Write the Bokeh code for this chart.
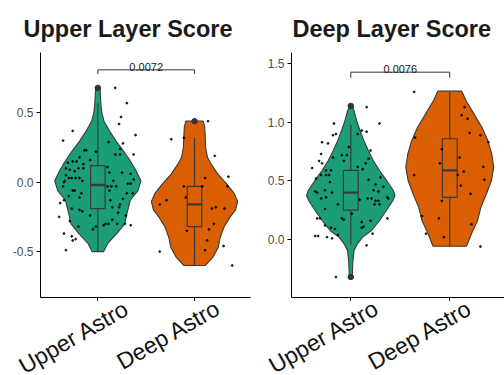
import numpy as np
from math import pi
from bokeh.plotting import figure
from bokeh.layouts import row, column
from bokeh.models import Range1d, FixedTicker, Label, PrintfTickFormatter
from bokeh.core.properties import value
from bokeh.embed import file_html
from bokeh.resources import INLINE

groups = ["Upper Astro", "Deep Astro"]
group_colors = ["#1B9E77", "#D95F02"]
titles = ["Upper Layer Score", "Deep Layer Score"]
p_values = ["0.0072", "0.0076"]

# ---------------- Upper Layer Score ----------------
ul_upper_vy = [0.68, 0.64, 0.56, 0.50, 0.44, 0.37, 0.30, 0.23, 0.16, 0.09, 0.01, -0.06, -0.13, -0.23, -0.30, -0.37, -0.44, -0.50]
ul_upper_vw = [0.022, 0.026, 0.032, 0.042, 0.064, 0.12, 0.185, 0.26, 0.33, 0.39, 0.446, 0.415, 0.335, 0.30, 0.278, 0.196, 0.103, 0.06]
ul_deep_vy = [0.44, 0.40, 0.325, 0.25, 0.18, 0.13, 0.06, -0.01, -0.08, -0.14, -0.20, -0.25, -0.325, -0.40, -0.47, -0.54, -0.60]
ul_deep_vw = [0.09, 0.105, 0.111, 0.115, 0.134, 0.172, 0.24, 0.33, 0.41, 0.446, 0.425, 0.369, 0.304, 0.265, 0.245, 0.19, 0.112]

ul_upper_dx = [0.18, 0.30, 0.24, 0.22, -0.26, 0.39, -0.36, 0.11, 0.26, 0.23,
               -0.14, -0.12, -0.02, 0.18, 0.37, 0.23, -0.19, -0.08, -0.31, -0.26,
               -0.22, -0.15, -0.20, -0.33, -0.29, -0.24, -0.15, 0.10, 0.12, 0.25,
               0.34, -0.33, -0.30, -0.27, -0.23, -0.19, -0.34, -0.35, -0.36, -0.16,
               0.37, 0.16, 0.31, 0.34, 0.10, 0.14, 0.19, 0.12, -0.26, -0.24,
               -0.17, -0.19, -0.30, -0.35, -0.39, 0.30, 0.36, 0.26, 0.13, 0.23,
               0.15, 0.22, -0.27, -0.19, -0.16, -0.40, -0.08, 0.21, 0.29, 0.08,
               0.11, 0.06, 0.15, 0.20, 0.34, 0.28, -0.29, -0.20, -0.02, -0.05,
               -0.35, -0.27, -0.26, -0.23, -0.33]
ul_upper_y = [0.68, 0.57, 0.47, 0.42, 0.37, 0.34, 0.30, 0.29, 0.28, 0.24,
              0.23, 0.23, 0.22, 0.20, 0.20, 0.20, 0.18, 0.16, 0.14, 0.15,
              0.15, 0.13, 0.10, 0.10, 0.09, 0.08, 0.10, 0.11, 0.07, 0.07,
              0.06, 0.05, 0.03, 0.03, 0.03, 0.03, 0.01, 0.00, -0.03, 0.01,
              0.02, 0.01, -0.01, -0.01, -0.03, -0.03, -0.03, -0.06, -0.06, -0.06,
              -0.08, -0.11, -0.10, -0.13, -0.15, -0.08, -0.08, -0.12, -0.13, -0.16,
              -0.18, -0.18, -0.19, -0.20, -0.21, -0.25, -0.24, -0.22, -0.24, -0.30,
              -0.30, -0.31, -0.27, -0.30, -0.31, -0.30, -0.28, -0.32, -0.32, -0.34,
              -0.37, -0.39, -0.42, -0.41, -0.49]
ul_deep_dx = [0.14, -0.24, -0.11, 0.21, 0.35, 0.11, -0.11, 0.08, 0.34, -0.09, -0.29, -0.36,
              0.18, 0.22, 0.31, 0.20, 0.15, -0.08, 0.13, 0.30, 0.11, -0.36, 0.39]
ul_deep_y = [0.44, 0.31, 0.32, 0.19, 0.04, 0.03, -0.03, -0.03, -0.03, -0.11, -0.13, -0.16,
             -0.19, -0.18, -0.19, -0.30, -0.34, -0.35, -0.42, -0.46, -0.49, -0.50, -0.60]

ul_q1 = [-0.19, -0.32]
ul_median = [-0.02, -0.16]
ul_q3 = [0.12, -0.03]
ul_whisk_lo = [-0.50, -0.60]
ul_whisk_hi = [0.57, 0.32]
ul_outlier_group = [1, 2]
ul_outlier_y = [0.68, 0.44]

# ---------------- Deep Layer Score ----------------
dl_upper_vy = [1.145, 1.10, 1.015, 0.93, 0.845, 0.76, 0.674, 0.589, 0.503, 0.418, 0.375, 0.333, 0.247, 0.162, 0.077, 0.02, -0.04, -0.094, -0.18, -0.25, -0.32]
dl_upper_vw = [0.012, 0.032, 0.059, 0.093, 0.131, 0.177, 0.227, 0.29, 0.362, 0.43, 0.447, 0.426, 0.36, 0.29, 0.21, 0.12, 0.065, 0.033, 0.022, 0.018, 0.015]
dl_deep_vy = [1.266, 1.186, 1.072, 0.958, 0.845, 0.731, 0.617, 0.503, 0.39, 0.276, 0.162, 0.048, -0.057]
dl_deep_vw = [0.121, 0.164, 0.244, 0.325, 0.384, 0.424, 0.444, 0.421, 0.371, 0.315, 0.281, 0.219, 0.169]

dl_upper_dx = [-0.17, 0.29, -0.15, -0.18, 0.11, 0.16, 0.07, -0.29, -0.23, -0.02,
               0.20, -0.30, -0.09, -0.04, -0.18, -0.32, -0.07, 0.18, -0.29, 0.15,
               -0.39, -0.25, -0.20, 0.07, 0.12, -0.30, -0.25, -0.22, -0.35, 0.30,
               0.18, -0.21, 0.25, 0.33, -0.36, -0.34, -0.26, -0.19, 0.23, 0.28,
               0.37, 0.38, 0.17, 0.21, 0.25, 0.28, 0.24, 0.29, -0.30, -0.25,
               -0.26, -0.13, 0.09, 0.01, -0.34, -0.31, -0.09, -0.07, 0.11, 0.20,
               0.37, -0.26, -0.20, -0.16, 0.11, 0.13, -0.13, 0.22, -0.36, -0.33,
               -0.24, -0.19, 0.16, -0.15, 0.16]
dl_upper_y = [0.99, 0.99, 0.90, 0.89, 0.93, 0.92, 0.90, 0.83, 0.82, 0.79,
              0.76, 0.73, 0.72, 0.72, 0.70, 0.67, 0.67, 0.69, 0.65, 0.65,
              0.61, 0.59, 0.59, 0.62, 0.60, 0.55, 0.55, 0.55, 0.52, 0.53,
              0.51, 0.49, 0.47, 0.45, 0.41, 0.40, 0.42, 0.40, 0.42, 0.41,
              0.36, 0.35, 0.35, 0.35, 0.33, 0.33, 0.30, 0.30, 0.35, 0.36,
              0.26, 0.30, 0.34, 0.22, 0.18, 0.18, 0.18, 0.17, 0.15, 0.16,
              0.18, 0.12, 0.10, 0.09, 0.10, 0.11, 0.04, 0.05, 0.03, 0.03,
              0.02, 0.01, -0.05, -0.32, 1.13]
dl_deep_dx = [-0.36, 0.15, 0.12, 0.18, 0.20, 0.31, -0.35, 0.39, -0.08, 0.10, -0.10, 0.34, 0.14,
              -0.36, 0.35, 0.08, 0.11, 0.21, -0.08, -0.28, -0.11, 0.22, -0.24, -0.06, 0.31]
dl_deep_y = [1.26, 1.13, 1.06, 1.03, 0.91, 0.89, 0.87, 0.83, 0.77, 0.70, 0.65, 0.62, 0.58,
             0.55, 0.51, 0.55, 0.46, 0.39, 0.33, 0.20, 0.18, 0.13, 0.05, 0.02, -0.06]

dl_q1 = [0.25, 0.36]
dl_median = [0.40, 0.59]
dl_q3 = [0.59, 0.86]
dl_whisk_lo = [-0.04, -0.057]
dl_whisk_hi = [0.98, 1.266]
dl_outlier_group = [1, 1]
dl_outlier_y = [1.14, -0.32]

ul_yticks = [-0.5, 0.0, 0.5]
dl_yticks = [0.0, 0.5, 1.0, 1.5]
ul_bracket = [0.81, 0.78]
dl_bracket = [1.428, 1.38]

FONT = "Liberation Sans"
OUTLINE = "#3a3a3a"
BOX_HALF = 0.075
PANEL_W = 252
MAIN_H = 301
LABEL_H = 375 - MAIN_H


def no_frame_align(fig):
    if "frame_align" in fig.properties():
        fig.frame_align = False


def make_panel(k, violins, points, q1, med, q3, lo, hi, out_g, out_y,
               xr, yr, yticks, bracket, border_left, border_right, title_offset,
               lab_shift_px, lab_down_px):
    p = figure(width=PANEL_W, height=MAIN_H, output_backend="svg", toolbar_location=None,
               x_range=Range1d(*xr), y_range=Range1d(*yr),
               min_border_left=border_left, min_border_right=border_right,
               min_border_top=52, min_border_bottom=4)
    no_frame_align(p)
    p.background_fill_color = "white"
    p.border_fill_color = "white"
    p.outline_line_color = None
    p.xgrid.visible = False
    p.ygrid.visible = False

    p.title.text = titles[k]
    p.title.text_font = FONT
    p.title.text_font_size = "23.5px"
    p.title.text_font_style = "bold"
    p.title.text_color = "#1a1a1a"
    p.title.align = "left"
    p.title.offset = title_offset
    p.title.standoff = 22

    for i, (vy, vw) in enumerate(violins):
        cx = i + 1
        vy = np.asarray(vy)
        vw = np.asarray(vw)
        xs = np.concatenate([cx - vw, (cx + vw)[::-1]])
        ys = np.concatenate([vy, vy[::-1]])
        p.patch(xs, ys, fill_color=group_colors[i], line_color=OUTLINE, line_width=1.1)

    cxs = np.array([1, 2])
    p.segment(x0=cxs, y0=np.array(q3), x1=cxs, y1=np.array(hi), line_color=OUTLINE, line_width=1.2)
    p.segment(x0=cxs, y0=np.array(q1), x1=cxs, y1=np.array(lo), line_color=OUTLINE, line_width=1.2)
    p.quad(left=cxs - BOX_HALF, right=cxs + BOX_HALF, bottom=q1, top=q3,
           fill_color=group_colors, line_color=OUTLINE, line_width=1.2)
    p.segment(x0=cxs - BOX_HALF, y0=med, x1=cxs + BOX_HALF, y1=med, line_color=OUTLINE, line_width=2.4)

    for i, (dx, y) in enumerate(points):
        p.scatter(x=(i + 1) + np.asarray(dx), y=y, size=1.9, color="black", alpha=0.8)

    p.scatter(x=out_g, y=out_y, size=5.5, color="#333333")

    top, drop = bracket
    p.line(x=[1, 1, 2, 2], y=[drop, top, top, drop], line_color="#333333", line_width=1)
    p.add_layout(Label(x=1.5, y=top, y_offset=3, text=p_values[k], text_align="center",
                       text_baseline="alphabetic", text_font=FONT, text_font_size="11px",
                       text_color="#1a1a1a"))

    p.yaxis.ticker = FixedTicker(ticks=yticks)
    p.yaxis.formatter = PrintfTickFormatter(format="%.1f")
    p.xaxis.ticker = FixedTicker(ticks=[1, 2])
    p.xaxis.major_label_overrides = {1: "", 2: ""}
    p.xaxis.major_label_text_font_size = "0px"
    p.xaxis.major_label_standoff = 0
    for ax in (p.xaxis, p.yaxis):
        ax.axis_line_color = "black"
        ax.axis_line_width = 1
        ax.major_tick_line_color = "black"
        ax.major_tick_in = 0
        ax.major_tick_out = 4
        ax.minor_tick_line_color = None
    p.yaxis.major_label_text_font = FONT
    p.yaxis.major_label_text_font_size = "12px"
    p.yaxis.major_label_text_color = "#4d4d4d"
    p.yaxis.major_label_standoff = 3

    # strip below the panel holding the rotated category names, on the same x scale
    fl = border_left
    fr = PANEL_W - border_right
    upp = (xr[1] - xr[0]) / (fr - fl)
    lab_xr = Range1d(xr[0] - fl * upp, xr[1] + border_right * upp)
    lab_x = [i + 1 + s * upp for i, s in enumerate(lab_shift_px)]
    lab_y = [-d for d in lab_down_px]
    q = figure(width=PANEL_W, height=LABEL_H, output_backend="svg", toolbar_location=None,
               x_range=lab_xr, y_range=Range1d(-LABEL_H, 0),
               x_axis_type=None, y_axis_type=None,
               min_border=0, min_border_left=0, min_border_right=0,
               min_border_top=0, min_border_bottom=0)
    no_frame_align(q)
    q.grid.visible = False
    q.outline_line_color = None
    q.background_fill_color = "white"
    q.border_fill_color = "white"
    q.text(x=lab_x, y=lab_y, text=groups, angle=pi / 6,
           text_align="center", text_baseline="middle",
           text_font=value(FONT), text_font_size="23px", text_color="#111111")
    return column(p, q)


c1 = make_panel(0, [(ul_upper_vy, ul_upper_vw), (ul_deep_vy, ul_deep_vw)],
                [(ul_upper_dx, ul_upper_y), (ul_deep_dx, ul_deep_y)],
                ul_q1, ul_median, ul_q3, ul_whisk_lo, ul_whisk_hi, ul_outlier_group, ul_outlier_y,
                (0.407, 2.579), (-0.831, 0.935), ul_yticks, ul_bracket, 40, 2, -17,
                [-24, -26], [35.5, 33.0])
c2 = make_panel(1, [(dl_upper_vy, dl_upper_vw), (dl_deep_vy, dl_deep_vw)],
                [(dl_upper_dx, dl_upper_y), (dl_deep_dx, dl_deep_y)],
                dl_q1, dl_median, dl_q3, dl_whisk_lo, dl_whisk_hi, dl_outlier_group, dl_outlier_y,
                (0.401, 2.553), (-0.495, 1.596), dl_yticks, dl_bracket, 39, 0, 1,
                [-27, -30], [35.0, 33.4])

layout = row(c1, c2)
open("out.html", "w").write(file_html(layout, INLINE))
